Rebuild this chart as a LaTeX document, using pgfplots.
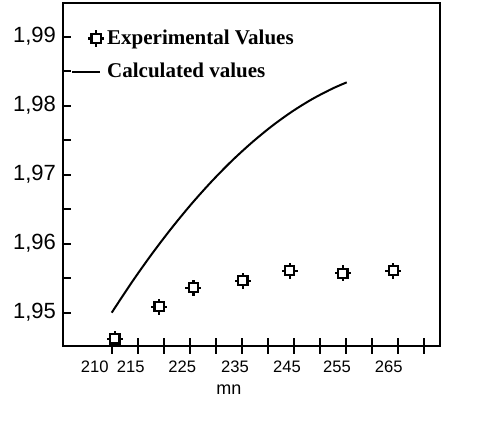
\documentclass[border=0pt]{standalone}
\usepackage{fontspec}
\setmainfont{Liberation Sans}
\newfontfamily\timesfont{Liberation Serif}
\usepackage{pgfplots}
\pgfplotsset{compat=1.18}
\pgfdeclareplotmark{sqcross}{%
  \pgfpathmoveto{\pgfqpoint{0pt}{\pgfplotmarksize}}\pgfpathlineto{\pgfqpoint{0pt}{1.75\pgfplotmarksize}}%
  \pgfpathmoveto{\pgfqpoint{0pt}{-\pgfplotmarksize}}\pgfpathlineto{\pgfqpoint{0pt}{-1.75\pgfplotmarksize}}%
  \pgfpathmoveto{\pgfqpoint{\pgfplotmarksize}{0pt}}\pgfpathlineto{\pgfqpoint{1.75\pgfplotmarksize}{0pt}}%
  \pgfpathmoveto{\pgfqpoint{-\pgfplotmarksize}{0pt}}\pgfpathlineto{\pgfqpoint{-1.75\pgfplotmarksize}{0pt}}%
  \pgfusepathqstroke
  \pgfpathrectangle{\pgfqpoint{-\pgfplotmarksize}{-\pgfplotmarksize}}{\pgfqpoint{2\pgfplotmarksize}{2\pgfplotmarksize}}%
  \pgfusepathqfillstroke
}
\pgfplotsset{
  markleg/.style={legend image code/.code={\draw[mark repeat=2, mark phase=2, ##1] plot coordinates {(0pt,0pt) (12pt,0pt) (14pt,0pt)};}},
  lineleg/.style={legend image code/.code={\draw[##1] (0pt,0pt) -- (14pt,0pt);}},
}
\newcommand{\sh}[2]{\hspace*{-#1pt}#2\hspace*{#1pt}}
\begin{document}
\begin{tikzpicture}
\useasboundingbox (0,0) rectangle (250pt,211.5pt);
\begin{axis}[
  at={(31.5pt,38.5pt)}, anchor=south west,
  scale only axis, width=188.5pt, height=171.5pt,
  xmin=200.64, xmax=273.07, ymin=1.94517, ymax=1.99488,
  axis line style={line width=1pt},
  tick pos=left,
  every tick/.style={black, line width=1pt},
  tick align=inside,
  major tick length=4pt,
  minor tick length=4pt,
  xtick=\empty,
  extra x ticks={210,215,220,225,230,235,240,245,250,255,260,265,270},
  extra x tick labels={\sh{8.5}{210},\sh{3.5}{215},,\sh{3.75}{225},,\sh{3.4}{235},,\sh{3.45}{245},,\sh{4.45}{255},,\sh{4.6}{265},},
  extra x tick style={major tick length=8pt, xtick align=center},
  ytick={1.95,1.96,1.97,1.98,1.99},
  minor ytick={1.955,1.965,1.975,1.985},
  yticklabel style={font=\fontsize{11}{13}\selectfont, /pgf/number format/.cd, use comma, fixed, fixed zerofill, precision=2, assume math mode=true},
  xticklabel style={font=\fontsize{8.3}{10}\selectfont},
  xlabel={mn},
  xlabel style={font=\fontsize{9}{11}\selectfont, at={(axis description cs:0.44,-0.128)}, anchor=center},
  legend style={at={(axis description cs:0.01,0.97)}, anchor=north west, draw=none, fill=none,
    yshift=-4pt, xshift=-1pt,
    nodes={inner xsep=1.5pt},
    font=\timesfont\bfseries\fontsize{10.5}{12}\selectfont, row sep=4pt},
  legend cell align=left,
]
\addplot[only marks, mark=sqcross, mark size=2.3pt, mark options={line width=1.1pt, fill=white, draw=black}, markleg]
  coordinates {(210.6,1.94619) (219.1,1.95087) (225.7,1.95362) (235.2,1.95464) (244.2,1.95609) (254.4,1.95571) (264.1,1.95609)};
\addlegendentry{Experimental Values}
\addplot[black, line width=1pt, smooth, lineleg]
  coordinates {(210.00,1.95000) (213.84,1.95438) (217.68,1.95847) (221.53,1.96228) (225.37,1.96580) (229.21,1.96903) (233.05,1.97198) (236.90,1.97464) (240.74,1.97702) (244.58,1.97911) (248.42,1.98091) (252.27,1.98243) (255.15,1.98338)};
\addlegendentry{Calculated values}
\end{axis}
\end{tikzpicture}
\end{document}
